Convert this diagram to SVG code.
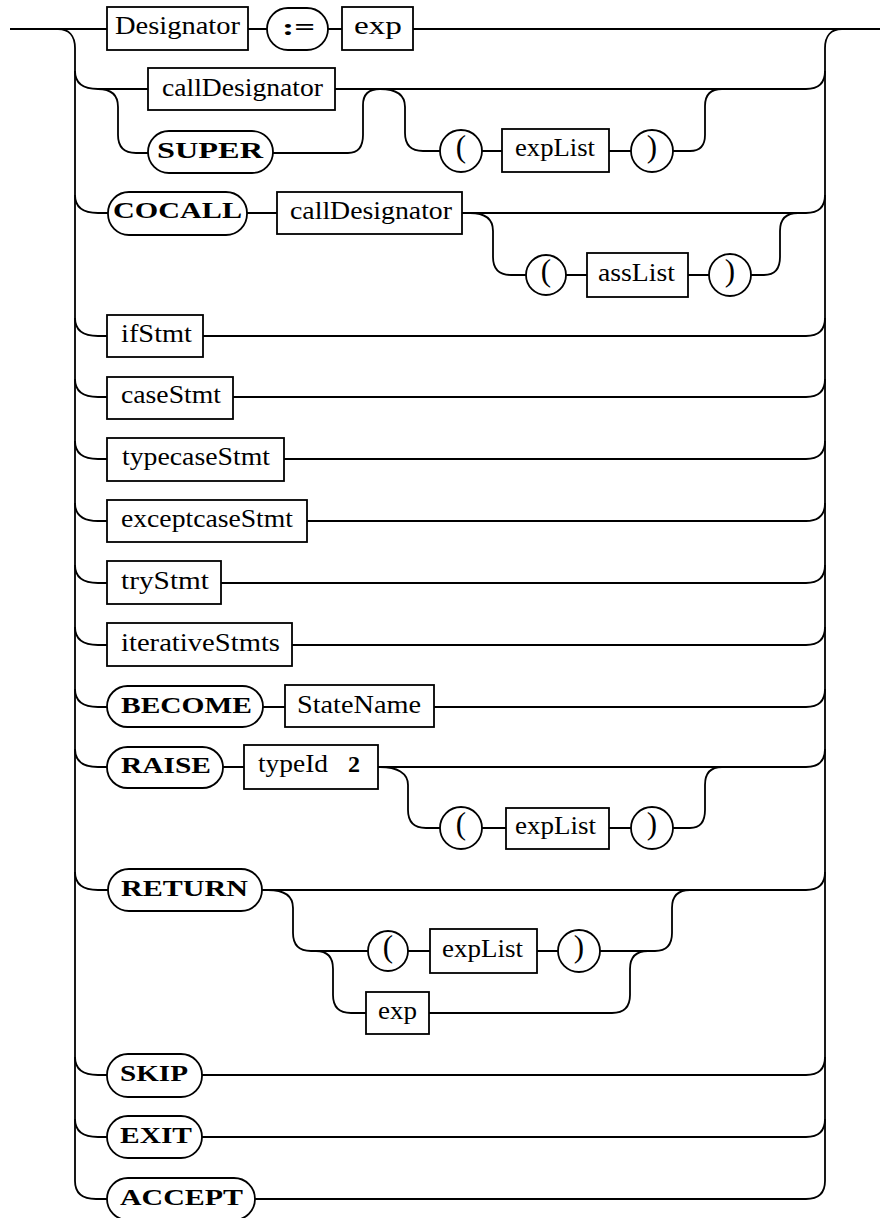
<svg xmlns="http://www.w3.org/2000/svg" width="880" height="1218" viewBox="0 0 880 1218">
<style>
.c{fill:none;stroke:#000;stroke-width:1.8}
.b{fill:#fff;stroke:#000;stroke-width:1.8}
.t{font-family:"Liberation Serif",serif;font-size:25px;fill:#000}
.k{font-family:"Liberation Serif",serif;font-size:24px;font-weight:bold;fill:#000}
.p{font-family:"Liberation Serif",serif;font-size:31px;fill:#000;text-anchor:middle}
</style>
<rect width="880" height="1218" fill="#fff"/>
<g id="connectors" class="c">
<path d="M10,29 H880"/>
<path d="M58,29 C69,29 75,36 75,48 V1181 C75,1193 82,1199 96,1199 H107"/>
<path d="M842,29 C831,29 825,36 825,48 V1181 C825,1193 818,1199 806,1199 H255"/>
<path d="M75,71 C75,83 82,89 98,89 H148 M335,89 H806 C818,89 825,83 825,71"/>
<path d="M98,89 C111,89 118,95 118,107 V135 C118,147 124,153 136,153 H148 M273,153 H348 C358,153 363,147 363,135 V105 C363,94 369,89 380,89"/>
<path d="M380,89 C396,89 405,95 405,107 V133 C405,145 411,151 423,151 H440 M482,151 H502 M609,151 H631 M673,151 H690 C700,151 705,145 705,135 V106 C705,95 711,89 722,89"/>
<path d="M75,195 C75,207 82,213 98,213 H108 M247,213 H277 M462,213 H806 C818,213 825,207 825,195"/>
<path d="M470,213 C485,213 493,219 493,231 V257 C493,269 499,275 511,275 H526 M566,275 H587 M688,275 H709 M751,275 H764 C774,275 780,269 780,257 V231 C780,219 786,213 798,213"/>
<path d="M75,318 C75,330 82,336 98,336 H107 M203,336 H806 C818,336 825,330 825,318"/>
<path d="M75,379 C75,391 82,397 98,397 H107 M233,397 H806 C818,397 825,391 825,379"/>
<path d="M75,441 C75,453 82,459 98,459 H107 M284,459 H806 C818,459 825,453 825,441"/>
<path d="M75,503 C75,515 82,521 98,521 H107 M307,521 H806 C818,521 825,515 825,503"/>
<path d="M75,565 C75,577 82,583 98,583 H107 M221,583 H806 C818,583 825,577 825,565"/>
<path d="M75,627 C75,639 82,645 98,645 H107 M292,645 H806 C818,645 825,639 825,627"/>
<path d="M75,689 C75,701 82,707 98,707 H107 M263,707 H285 M434,707 H806 C818,707 825,701 825,689"/>
<path d="M75,749 C75,761 82,767 98,767 H107 M223,767 H244 M378,767 H806 C818,767 825,761 825,749"/>
<path d="M380,767 C397,767 408,773 408,785 V810 C408,822 414,828 426,828 H440 M482,828 H506 M609,828 H631 M673,828 H690 C700,828 705,822 705,810 V785 C705,773 711,767 722,767"/>
<path d="M75,872 C75,884 82,890 98,890 H108 M262,890 H806 C818,890 825,884 825,872"/>
<path d="M268,890 C284,890 293,896 293,908 V933 C293,945 299,951 311,951 H368 M408,951 H430 M537,951 H558 M600,951 H655 C666,951 672,945 672,933 V908 C672,896 678,890 690,890"/>
<path d="M316,951 C327,951 333,957 333,969 V995 C333,1007 339,1013 351,1013 H366 M429,1013 H612 C624,1013 630,1007 630,995 V969 C630,957 636,951 648,951"/>
<path d="M75,1057 C75,1069 82,1075 98,1075 H107 M202,1075 H806 C818,1075 825,1069 825,1057"/>
<path d="M75,1119 C75,1131 82,1137 98,1137 H107 M202,1137 H806 C818,1137 825,1131 825,1119"/>
</g>
<g id="n-designator"><rect class="b" x="107" y="7" width="141" height="43"/><text class="t" x="115" y="34" textLength="125" lengthAdjust="spacingAndGlyphs">Designator</text></g>
<g id="n-assign"><rect class="b" x="267" y="8" width="61" height="42" rx="21"/><text class="k" x="282" y="35" textLength="33" lengthAdjust="spacingAndGlyphs">:=</text></g>
<g id="n-exp1"><rect class="b" x="342" y="7" width="71" height="43"/><text class="t" x="354" y="34" textLength="48" lengthAdjust="spacingAndGlyphs">exp</text></g>
<g id="n-calldesignator1"><rect class="b" x="148" y="68" width="187" height="42"/><text class="t" x="162" y="96" textLength="161" lengthAdjust="spacingAndGlyphs">callDesignator</text></g>
<g id="n-super"><rect class="b" x="148" y="131" width="125" height="42" rx="21"/><text class="k" x="157" y="158" textLength="106" lengthAdjust="spacingAndGlyphs">SUPER</text></g>
<g id="n-lparen1"><circle class="b" cx="461" cy="151" r="21"/><text class="p" x="461" y="157">(</text></g>
<g id="n-explist1"><rect class="b" x="502" y="129" width="107" height="43"/><text class="t" x="515" y="156" textLength="80" lengthAdjust="spacingAndGlyphs">expList</text></g>
<g id="n-rparen1"><circle class="b" cx="652" cy="151" r="21"/><text class="p" x="652" y="157">)</text></g>
<g id="n-cocall"><rect class="b" x="108" y="192" width="139" height="43" rx="21"/><text class="k" x="113" y="218" textLength="129" lengthAdjust="spacingAndGlyphs">COCALL</text></g>
<g id="n-calldesignator2"><rect class="b" x="277" y="192" width="185" height="42"/><text class="t" x="290" y="219" textLength="162" lengthAdjust="spacingAndGlyphs">callDesignator</text></g>
<g id="n-lparen2"><circle class="b" cx="546" cy="275" r="20"/><text class="p" x="546" y="281">(</text></g>
<g id="n-asslist"><rect class="b" x="587" y="253" width="101" height="44"/><text class="t" x="598" y="281" textLength="77" lengthAdjust="spacingAndGlyphs">assList</text></g>
<g id="n-rparen2"><circle class="b" cx="730" cy="275" r="21"/><text class="p" x="730" y="281">)</text></g>
<g id="n-ifstmt"><rect class="b" x="107" y="315" width="96" height="42"/><text class="t" x="121" y="342" textLength="71" lengthAdjust="spacingAndGlyphs">ifStmt</text></g>
<g id="n-casestmt"><rect class="b" x="107" y="377" width="126" height="42"/><text class="t" x="121" y="403" textLength="100" lengthAdjust="spacingAndGlyphs">caseStmt</text></g>
<g id="n-typecasestmt"><rect class="b" x="107" y="438" width="177" height="43"/><text class="t" x="122" y="465" textLength="148" lengthAdjust="spacingAndGlyphs">typecaseStmt</text></g>
<g id="n-exceptcasestmt"><rect class="b" x="107" y="500" width="200" height="42"/><text class="t" x="121" y="527" textLength="172" lengthAdjust="spacingAndGlyphs">exceptcaseStmt</text></g>
<g id="n-trystmt"><rect class="b" x="107" y="561" width="114" height="43"/><text class="t" x="121" y="589" textLength="88" lengthAdjust="spacingAndGlyphs">tryStmt</text></g>
<g id="n-iterativestmts"><rect class="b" x="107" y="623" width="185" height="43"/><text class="t" x="121" y="651" textLength="159" lengthAdjust="spacingAndGlyphs">iterativeStmts</text></g>
<g id="n-become"><rect class="b" x="107" y="686" width="156" height="41" rx="20.5"/><text class="k" x="121" y="713" textLength="131" lengthAdjust="spacingAndGlyphs">BECOME</text></g>
<g id="n-statename"><rect class="b" x="285" y="685" width="149" height="42"/><text class="t" x="297" y="713" textLength="124" lengthAdjust="spacingAndGlyphs">StateName</text></g>
<g id="n-raise"><rect class="b" x="107" y="747" width="116" height="41" rx="20.5"/><text class="k" x="121" y="773" textLength="90" lengthAdjust="spacingAndGlyphs">RAISE</text></g>
<g id="n-typeid"><rect class="b" x="244" y="745" width="134" height="44"/><text class="t" x="258" y="772" textLength="70" lengthAdjust="spacingAndGlyphs">typeId</text><text class="k" x="348" y="772" font-size="15">2</text></g>
<g id="n-lparen3"><circle class="b" cx="461" cy="828" r="21"/><text class="p" x="461" y="834">(</text></g>
<g id="n-explist2"><rect class="b" x="506" y="808" width="103" height="41"/><text class="t" x="515" y="834" textLength="81" lengthAdjust="spacingAndGlyphs">expList</text></g>
<g id="n-rparen3"><circle class="b" cx="652" cy="828" r="21"/><text class="p" x="652" y="834">)</text></g>
<g id="n-return"><rect class="b" x="108" y="869" width="154" height="42" rx="21"/><text class="k" x="121" y="896" textLength="127" lengthAdjust="spacingAndGlyphs">RETURN</text></g>
<g id="n-lparen4"><circle class="b" cx="388" cy="951" r="20"/><text class="p" x="388" y="957">(</text></g>
<g id="n-explist3"><rect class="b" x="430" y="929" width="107" height="44"/><text class="t" x="442" y="957" textLength="81" lengthAdjust="spacingAndGlyphs">expList</text></g>
<g id="n-rparen4"><circle class="b" cx="579" cy="951" r="21"/><text class="p" x="579" y="957">)</text></g>
<g id="n-exp2"><rect class="b" x="366" y="992" width="63" height="42"/><text class="t" x="378" y="1019" textLength="39" lengthAdjust="spacingAndGlyphs">exp</text></g>
<g id="n-skip"><rect class="b" x="107" y="1054" width="95" height="43" rx="21"/><text class="k" x="120" y="1081" textLength="68" lengthAdjust="spacingAndGlyphs">SKIP</text></g>
<g id="n-exit"><rect class="b" x="107" y="1116" width="95" height="42" rx="21"/><text class="k" x="120" y="1143" textLength="72" lengthAdjust="spacingAndGlyphs">EXIT</text></g>
<g id="n-accept"><rect class="b" x="107" y="1178" width="148" height="42" rx="21"/><text class="k" x="120" y="1205" textLength="123" lengthAdjust="spacingAndGlyphs">ACCEPT</text></g>
</svg>
